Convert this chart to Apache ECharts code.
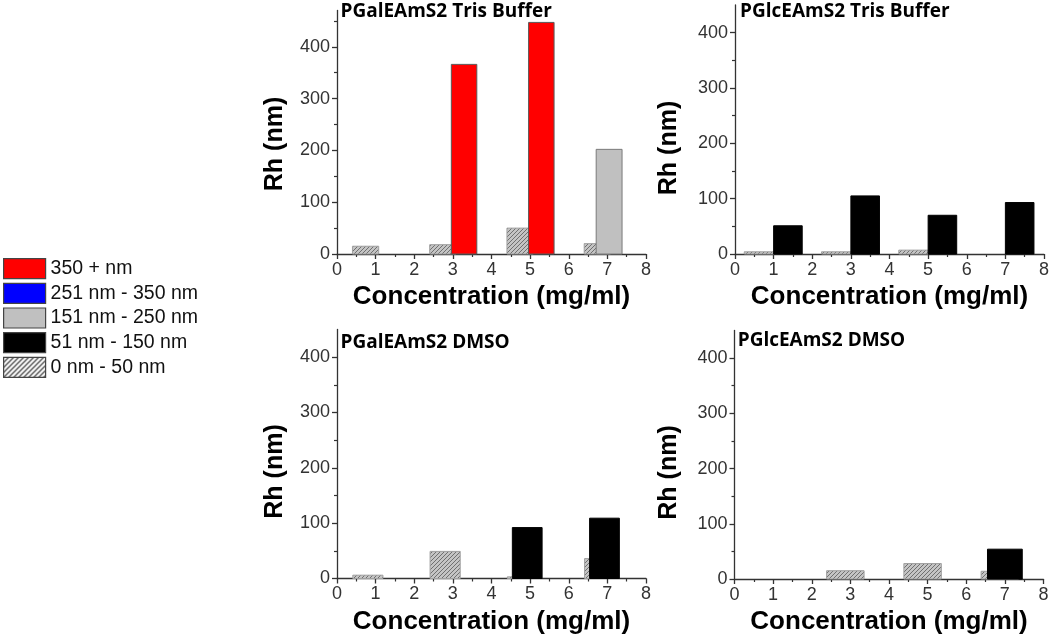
<!DOCTYPE html>
<html><head><meta charset="utf-8">
<script src="https://cdn.jsdelivr.net/npm/echarts@6/dist/echarts.min.js"></script>
<style>html,body{margin:0;padding:0;background:#fff}#chart{width:1050px;height:644px}</style>
</head><body><div id="chart"></div>
<script>
// ---------------- data ----------------
const concentrations = [1, 3, 5, 7];
const xTicks = [0, 1, 2, 3, 4, 5, 6, 7, 8];
const yTicks = [0, 100, 200, 300, 400];
const legendNames = ['350 + nm', '251 nm - 350 nm', '151 nm - 250 nm', '51 nm - 150 nm', '0 nm - 50 nm'];
const panelTitles = ['PGalEAmS2 Tris Buffer', 'PGlcEAmS2 Tris Buffer', 'PGalEAmS2 DMSO', 'PGlcEAmS2 DMSO'];
const xTitle = 'Concentration (mg/ml)';
const yTitle = 'Rh (nm)';
// Rh values (nm) at each concentration; null = no bar
const galTris_0_50 = [15, 18, 50, 20];
const galTris_151_250 = [null, null, null, 202];
const galTris_350 = [null, 366, 447, null];
const glcTris_0_50 = [4, 4, 7, null];
const glcTris_51_150 = [51, 105, 70, 93];
const galDmso_0_50 = [6, 49, 3, 36];
const galDmso_51_150 = [null, null, 92, 109];
const glcDmso_0_50 = [null, 15, 28, 14];
const glcDmso_51_150 = [null, null, null, 54];

// ---------------- styling ----------------
function hatch(bg, fg, size, lw) {
  const c = document.createElement('canvas'); c.width = c.height = size;
  const g = c.getContext('2d');
  g.fillStyle = bg; g.fillRect(0, 0, size, size);
  g.strokeStyle = fg; g.lineWidth = lw;
  g.beginPath();
  g.moveTo(0, size); g.lineTo(size, 0);
  g.moveTo(-size / 2, size / 2); g.lineTo(size / 2, -size / 2);
  g.moveTo(size / 2, size * 1.5); g.lineTo(size * 1.5, size / 2);
  g.stroke();
  return { image: c, repeat: 'repeat' };
}
const barHatch = hatch('#c4c4c4', '#707070', 4, 1);
const legendHatch = hatch('#ffffff', '#222222', 5, 1.2);
const seriesStyle = {
  '350 + nm': { fill: '#ff0000', stroke: '#5a5a5a' },
  '251 nm - 350 nm': { fill: '#0000ff', stroke: '#5a5a5a' },
  '151 nm - 250 nm': { fill: '#c0c0c0', stroke: '#7a7a7a' },
  '51 nm - 150 nm': { fill: '#000000', stroke: '#000000' },
  '0 nm - 50 nm': { fill: barHatch, stroke: '#a0a0a0' }
};
const FONT = '"Liberation Sans", Arial, sans-serif';

const panels = [
  { grid: { left: 337, top: 10.5, width: 309, height: 243.5 }, ymax: 470, titlePos: [340.5, 12], yNamePos: [275.5, 144],
    bars: [ { name: legendNames[4], values: galTris_0_50, off: -0.26, w: 0.68 },
            { name: legendNames[0], values: galTris_350, off: 0.29, w: 0.66 },
            { name: legendNames[2], values: galTris_151_250, off: 0.045, w: 0.67 } ] },
  { grid: { left: 735, top: 5, width: 309, height: 249 }, ymax: 450, titlePos: [740, 12], yNamePos: [669.5, 148],
    bars: [ { name: legendNames[4], values: glcTris_0_50, off: -0.38, w: 0.76 },
            { name: legendNames[3], values: glcTris_51_150, off: 0.37, w: 0.74 } ] },
  { grid: { left: 337, top: 329.5, width: 309, height: 249 }, ymax: 450, titlePos: [340.5, 342.5], yNamePos: [275.5, 471.5],
    bars: [ { name: legendNames[4], values: galDmso_0_50, off: -0.2, w: 0.78 },
            { name: legendNames[3], values: galDmso_51_150, off: -0.075, w: 0.77 } ] },
  { grid: { left: 734.5, top: 330.5, width: 309, height: 248.5 }, ymax: 450, titlePos: [737.7, 341], yNamePos: [669.5, 472.5],
    bars: [ { name: legendNames[4], values: glcDmso_0_50, off: -0.13, w: 0.97 },
            { name: legendNames[3], values: glcDmso_51_150, off: 0.0, w: 0.9 } ] }
];

const grids = [], xAxes = [], yAxes = [], series = [], graphics = [];
const axisLineStyle = { color: '#333', width: 1.3 };
panels.forEach((p, i) => {
  grids.push(Object.assign({ outerBoundsMode: 'none', containLabel: false }, p.grid));
  xAxes.push({
    type: 'value', gridIndex: i, min: 0, max: 8, interval: 1,
    name: xTitle, nameLocation: 'middle', nameGap: 30,
    nameTextStyle: { fontFamily: FONT, fontWeight: 'bold', fontSize: 26, color: '#000' },
    axisLine: { show: true, onZero: false, lineStyle: axisLineStyle },
    axisTick: { show: true, length: 5, customValues: xTicks, lineStyle: axisLineStyle },
    minorTick: { show: true, splitNumber: 2, length: 3, lineStyle: { color: '#333', width: 1.2 } },
    axisLabel: { fontFamily: FONT, fontSize: 18, color: '#333', margin: 7, customValues: xTicks },
    splitLine: { show: false }, minorSplitLine: { show: false }
  });
  yAxes.push({
    type: 'value', gridIndex: i, min: 0, max: p.ymax, interval: 100,
    axisLine: { show: true, onZero: false, lineStyle: axisLineStyle },
    axisTick: { show: true, length: 5, customValues: yTicks, lineStyle: axisLineStyle },
    minorTick: { show: true, splitNumber: 2, length: 3, lineStyle: { color: '#333', width: 1.2 } },
    axisLabel: { fontFamily: FONT, fontSize: 18, color: '#333', margin: 7, customValues: yTicks },
    splitLine: { show: false }, minorSplitLine: { show: false }
  });
  p.bars.forEach(b => {
    const st = seriesStyle[b.name];
    const off = b.off, w = b.w;
    series.push({
      type: 'custom', name: b.name, xAxisIndex: i, yAxisIndex: i,
      itemStyle: { color: st.fill, borderColor: st.stroke, borderWidth: 1 },
      encode: { x: 0, y: 1 },
      data: concentrations.map((c, k) => [c, b.values[k]]).filter(d => d[1] != null),
      renderItem: function (params, api) {
        const c = api.value(0), v = api.value(1);
        const p0 = api.coord([c + off - w / 2, v]);
        const p1 = api.coord([c + off + w / 2, 0]);
        return { type: 'rect', shape: { x: p0[0], y: p0[1], width: p1[0] - p0[0], height: p1[1] - p0[1] },
                 style: { fill: st.fill, stroke: st.stroke, lineWidth: 1 } };
      }
    });
  });
  graphics.push({ type: 'text', x: p.titlePos[0], y: p.titlePos[1], silent: true,
    style: { text: panelTitles[i], font: 'bold 19px "Open Sans", sans-serif', fill: '#000', align: 'left', verticalAlign: 'middle' } });
  graphics.push({ type: 'text', x: p.yNamePos[0], y: p.yNamePos[1], rotation: Math.PI / 2, silent: true,
    style: { text: yTitle, font: 'bold 25px "Liberation Sans", Arial, sans-serif', fill: '#000', align: 'center', verticalAlign: 'middle' } });
});
// blue class only appears in the legend (no bars)
series.push({ type: 'custom', name: legendNames[1], xAxisIndex: 0, yAxisIndex: 0,
  itemStyle: { color: seriesStyle[legendNames[1]].fill }, data: [], renderItem: () => null });

const chart = echarts.init(document.getElementById('chart'), null, { renderer: 'canvas' });
chart.setOption({
  animation: false,
  backgroundColor: '#fff',
  grid: grids, xAxis: xAxes, yAxis: yAxes, series: series,
  legend: {
    orient: 'vertical', left: 3, top: 258, padding: 0, itemWidth: 42, itemHeight: 20, itemGap: 3.5, icon: 'rect',
    textStyle: { fontFamily: FONT, fontSize: 19.5, color: '#111', lineHeight: 20 },
    itemStyle: { borderColor: '#444', borderWidth: 1.2 },
    data: legendNames.map(n => n === '0 nm - 50 nm'
      ? { name: n, itemStyle: { color: legendHatch, borderColor: '#444', borderWidth: 1.2 } }
      : { name: n, itemStyle: { color: seriesStyle[n].fill, borderColor: '#444', borderWidth: 1.2 } })
  },
  graphic: graphics
});
</script></body></html>
